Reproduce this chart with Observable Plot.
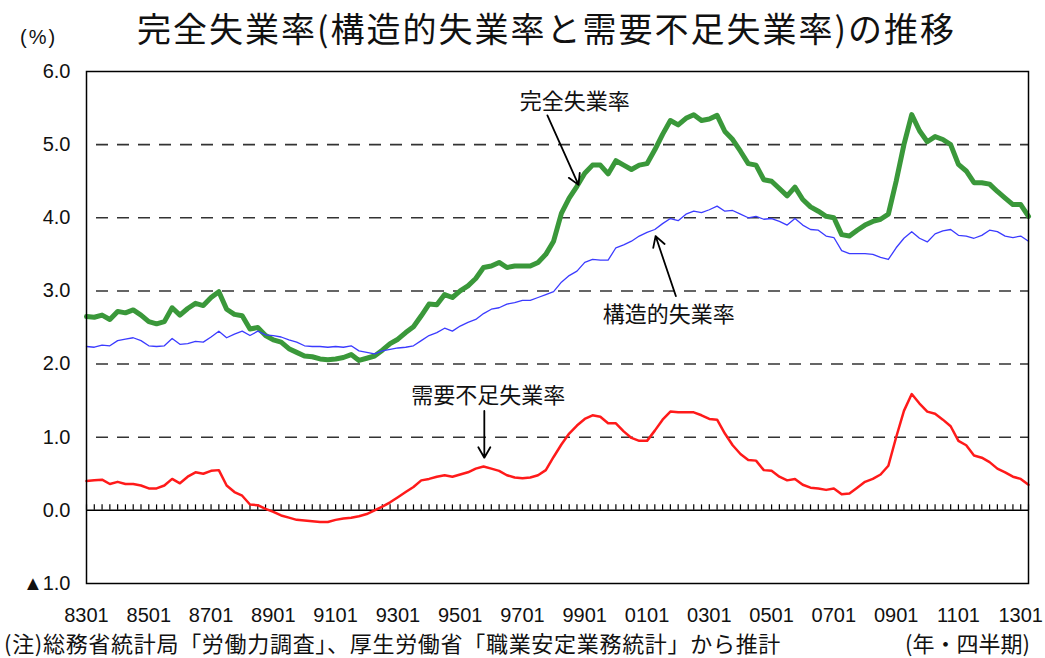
<!DOCTYPE html>
<html><head><meta charset="utf-8">
<script src="https://cdn.jsdelivr.net/npm/d3@7"></script>
<script src="https://cdn.jsdelivr.net/npm/@observablehq/plot@0.6"></script>
<style>
body{margin:0;background:#fff;}
#wrap{position:relative;width:1045px;height:658px;overflow:hidden;}
#chart{position:absolute;left:0;top:0;}
.t{position:absolute;white-space:nowrap;color:#111;font-family:"Noto Sans CJK JP","Noto Sans",sans-serif;line-height:1;}
</style></head><body>
<div id="wrap">
<div id="chart"></div>
<div class="t" style="left:137px;top:11px;font-size:34px;letter-spacing:2px;">完全失業率(構造的失業率と需要不足失業率)の推移</div>
<div class="t" style="left:20px;top:27px;font-size:20px;letter-spacing:2px;font-family:'Liberation Sans',Arial,sans-serif;">(%)</div>
<div class="t" style="left:4px;top:631px;font-size:22px;letter-spacing:0.7px;">(注)総務省統計局「労働力調査」、厚生労働省「職業安定業務統計」から推計</div>
<div class="t" style="left:905px;top:631px;font-size:22px;">(年・四半期)</div>
</div>
<script>
// Quarterly data, 1983Q1 (index 0) to 2013Q2 (index 121)
const totalRate = [
2.65,2.64,2.67,2.61,2.72,2.70,2.74,2.67,2.58,2.55,
2.58,2.77,2.67,2.76,2.83,2.80,2.91,2.99,2.75,2.68,
2.66,2.48,2.50,2.39,2.33,2.30,2.21,2.16,2.11,2.10,
2.07,2.06,2.07,2.09,2.13,2.05,2.08,2.11,2.19,2.28,
2.34,2.43,2.51,2.66,2.82,2.81,2.95,2.91,3.00,3.07,
3.17,3.32,3.34,3.39,3.32,3.34,3.34,3.34,3.39,3.50,
3.68,4.06,4.27,4.43,4.61,4.72,4.72,4.60,4.78,4.72,
4.66,4.72,4.74,4.93,5.14,5.33,5.27,5.36,5.41,5.33,
5.35,5.40,5.18,5.07,4.91,4.74,4.72,4.52,4.50,4.40,
4.30,4.42,4.25,4.15,4.09,4.02,4.00,3.77,3.75,3.83,
3.90,3.95,3.98,4.05,4.50,5.00,5.41,5.19,5.04,5.11,
5.07,5.00,4.73,4.64,4.48,4.48,4.46,4.36,4.27,4.18,
4.18,4.02];
const structuralRate = [
2.24,2.23,2.26,2.25,2.32,2.34,2.36,2.32,2.25,2.24,
2.25,2.35,2.27,2.28,2.31,2.30,2.37,2.45,2.36,2.41,
2.45,2.39,2.45,2.40,2.39,2.37,2.33,2.30,2.25,2.24,
2.24,2.23,2.24,2.23,2.25,2.18,2.16,2.14,2.18,2.20,
2.22,2.23,2.25,2.32,2.39,2.43,2.49,2.45,2.52,2.57,
2.61,2.69,2.75,2.77,2.82,2.84,2.87,2.87,2.91,2.95,
2.99,3.12,3.21,3.27,3.39,3.43,3.42,3.42,3.59,3.63,
3.68,3.75,3.80,3.84,3.92,3.99,3.96,4.05,4.09,4.07,
4.11,4.16,4.09,4.10,4.05,4.00,4.02,3.98,3.99,3.95,
3.90,3.99,3.90,3.84,3.83,3.75,3.73,3.55,3.51,3.51,
3.51,3.50,3.46,3.43,3.59,3.72,3.81,3.72,3.67,3.78,
3.82,3.84,3.76,3.75,3.72,3.76,3.83,3.81,3.75,3.73,
3.75,3.68];
const demandRate = [
0.40,0.41,0.42,0.36,0.39,0.36,0.36,0.34,0.30,0.30,
0.34,0.43,0.37,0.46,0.52,0.50,0.54,0.55,0.34,0.25,
0.20,0.08,0.07,0.02,-0.02,-0.07,-0.10,-0.13,-0.14,-0.15,
-0.16,-0.16,-0.13,-0.11,-0.10,-0.08,-0.05,0.00,0.05,0.11,
0.18,0.25,0.32,0.41,0.43,0.46,0.48,0.46,0.49,0.52,
0.57,0.60,0.57,0.54,0.48,0.45,0.44,0.45,0.48,0.55,
0.73,0.90,1.05,1.16,1.25,1.30,1.28,1.19,1.19,1.08,
0.99,0.95,0.95,1.09,1.24,1.35,1.34,1.34,1.34,1.30,
1.25,1.24,1.05,0.89,0.77,0.69,0.68,0.55,0.54,0.46,
0.41,0.43,0.35,0.31,0.30,0.28,0.30,0.22,0.23,0.31,
0.39,0.43,0.49,0.61,1.00,1.36,1.59,1.46,1.35,1.32,
1.24,1.15,0.95,0.89,0.75,0.72,0.66,0.57,0.52,0.46,
0.43,0.35];
const xTickLabels = ["8301","8501","8701","8901","9101","9301","9501","9701","9901","0101","0301","0501","0701","0901","1101","1301"];
const yTickValues = [-1,0,1,2,3,4,5,6];
const yTickLabels = ["▲1.0","0.0","1.0","2.0","3.0","4.0","5.0","6.0"];
const gridValues = [1,2,3,4,5];
const annoLabels = [
  {label:"完全失業率", q:62.7, v:5.58},
  {label:"構造的失業率", q:74.8, v:2.67},
  {label:"需要不足失業率", q:51.6, v:1.57}
];
const annoArrows = [
  {q1:59.2, v1:5.40, q2:63.2, v2:4.45},
  {q1:75.7, v1:2.93, q2:73.1, v2:3.75},
  {q1:51.1, v1:1.36, q2:51.1, v2:0.72}
];

const toRows = arr => arr.map((v,i)=>({q:i, v}));
const nQ = totalRate.length;
const qTicks = d3.range(nQ);
const xLabelTicks = xTickLabels.map((_,i)=>i*8);

const chart = Plot.plot({
  width:1045, height:658,
  marginTop:71, marginBottom:75, marginLeft:86, marginRight:17,
  x:{domain:[0,nQ-1], axis:null},
  y:{domain:[-1,6], axis:null},
  style:{fontFamily:"'Liberation Sans',Arial,sans-serif", background:"transparent", color:"#111"},
  marks:[
    Plot.ruleY(gridValues, {stroke:"#333", strokeWidth:1.6, strokeDasharray:"12,9", strokeDashoffset:-10}),
    Plot.ruleY([0], {stroke:"#000", strokeWidth:1.5}),
    Plot.ruleX(qTicks, {x:d=>d, y1:0, y2:0.075, stroke:"#000", strokeWidth:1.2}),
    Plot.line(toRows(totalRate), {x:"q", y:"v", stroke:"#3a983a", strokeWidth:5, strokeLinejoin:"round"}),
    Plot.line(toRows(structuralRate), {x:"q", y:"v", stroke:"#3b3bff", strokeWidth:1.3}),
    Plot.line(toRows(demandRate), {x:"q", y:"v", stroke:"#ff1a1a", strokeWidth:2.5}),
    Plot.frame({stroke:"#000", strokeWidth:1.5}),
    Plot.axisY(yTickValues, {tickSize:0, tickPadding:16, fontSize:20,
      tickFormat:d=>yTickLabels[yTickValues.indexOf(d)]}),
    Plot.axisX(xLabelTicks, {tickSize:0, tickPadding:24, fontSize:20,
      tickFormat:d=>xTickLabels[d/8]}),
    Plot.arrow(annoArrows, {x1:"q1", y1:"v1", x2:"q2", y2:"v2", stroke:"#000", strokeWidth:1.8, headLength:10}),
    Plot.text(annoLabels, {x:"q", y:"v", text:"label", fontSize:22, fill:"#111",
      fontFamily:"'Noto Sans CJK JP',sans-serif"})
  ]
});
document.getElementById("chart").appendChild(chart);
</script>
</body></html>
